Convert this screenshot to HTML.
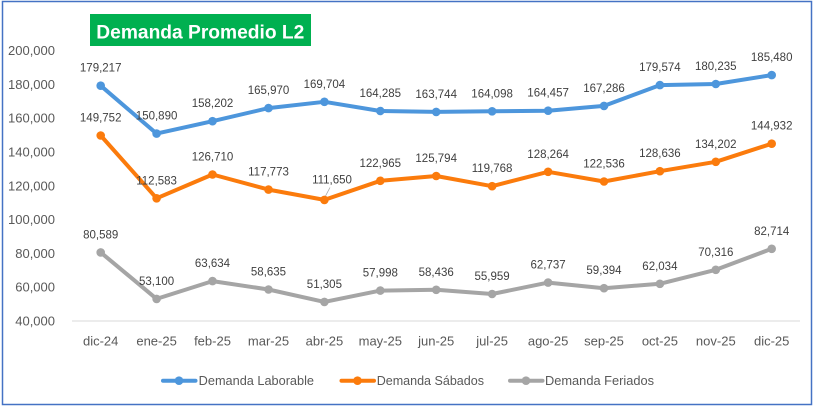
<!DOCTYPE html>
<html><head><meta charset="utf-8"><style>
html,body{margin:0;padding:0;background:#fff;}
svg{display:block;}
text{font-family:"Liberation Sans",sans-serif;}
</style></head><body>
<svg width="818" height="415" viewBox="0 0 818 415" xmlns="http://www.w3.org/2000/svg">
<rect x="0" y="0" width="818" height="415" fill="#fff"/>
<rect x="2.5" y="1.5" width="809" height="403" fill="#fff" stroke="#4472C4" stroke-width="1.5"/>
<!-- title -->
<rect x="90" y="14" width="221" height="32" fill="#00B050"/>
<text x="200.3" y="38.5" font-size="19.5" font-weight="bold" fill="#fff" text-anchor="middle" textLength="208" lengthAdjust="spacingAndGlyphs">Demanda Promedio L2</text>
<!-- y axis labels -->
<g font-size="13" fill="#595959" text-anchor="end">
<text x="55" y="55.1">200,000</text>
<text x="55" y="88.9">180,000</text>
<text x="55" y="122.7">160,000</text>
<text x="55" y="156.5">140,000</text>
<text x="55" y="190.3">120,000</text>
<text x="55" y="224.1">100,000</text>
<text x="55" y="257.9">80,000</text>
<text x="55" y="291.7">60,000</text>
<text x="55" y="325.5">40,000</text>
</g>
<line x1="72" y1="321" x2="800" y2="321" stroke="#D9D9D9" stroke-width="1"/>
<!-- x labels -->
<g font-size="13" fill="#595959" text-anchor="middle">
<text x="100.7" y="345.5">dic-24</text>
<text x="156.6" y="345.5">ene-25</text>
<text x="212.5" y="345.5">feb-25</text>
<text x="268.5" y="345.5">mar-25</text>
<text x="324.4" y="345.5">abr-25</text>
<text x="380.3" y="345.5">may-25</text>
<text x="436.2" y="345.5">jun-25</text>
<text x="492.1" y="345.5">jul-25</text>
<text x="548.1" y="345.5">ago-25</text>
<text x="604.0" y="345.5">sep-25</text>
<text x="659.9" y="345.5">oct-25</text>
<text x="715.8" y="345.5">nov-25</text>
<text x="771.7" y="345.5">dic-25</text>
</g>
<!-- series -->
<g fill="none" stroke-width="4" stroke-linejoin="round" stroke-linecap="round">
<polyline stroke="#4D96DC" points="100.7,85.7 156.6,133.6 212.5,121.2 268.5,108.1 324.4,101.8 380.3,111.0 436.2,111.9 492.1,111.3 548.1,110.7 604.0,105.9 659.9,85.1 715.8,84.0 771.7,75.1"/>
<polyline stroke="#FB7B0C" points="100.7,135.5 156.6,198.3 212.5,174.5 268.5,189.6 324.4,199.9 380.3,180.8 436.2,176.0 492.1,186.2 548.1,171.8 604.0,181.5 659.9,171.2 715.8,161.8 771.7,143.7"/>
<polyline stroke="#A5A5A5" points="100.7,252.4 156.6,298.9 212.5,281.1 268.5,289.5 324.4,301.9 380.3,290.6 436.2,289.8 492.1,294.0 548.1,282.6 604.0,288.2 659.9,283.8 715.8,269.8 771.7,248.8"/>
</g>
<g fill="#4D96DC">
<circle cx="100.7" cy="85.7" r="4.3"/><circle cx="156.6" cy="133.6" r="4.3"/><circle cx="212.5" cy="121.2" r="4.3"/><circle cx="268.5" cy="108.1" r="4.3"/><circle cx="324.4" cy="101.8" r="4.3"/><circle cx="380.3" cy="111.0" r="4.3"/><circle cx="436.2" cy="111.9" r="4.3"/><circle cx="492.1" cy="111.3" r="4.3"/><circle cx="548.1" cy="110.7" r="4.3"/><circle cx="604.0" cy="105.9" r="4.3"/><circle cx="659.9" cy="85.1" r="4.3"/><circle cx="715.8" cy="84.0" r="4.3"/><circle cx="771.7" cy="75.1" r="4.3"/>
</g>
<g fill="#FB7B0C">
<circle cx="100.7" cy="135.5" r="4.3"/><circle cx="156.6" cy="198.3" r="4.3"/><circle cx="212.5" cy="174.5" r="4.3"/><circle cx="268.5" cy="189.6" r="4.3"/><circle cx="324.4" cy="199.9" r="4.3"/><circle cx="380.3" cy="180.8" r="4.3"/><circle cx="436.2" cy="176.0" r="4.3"/><circle cx="492.1" cy="186.2" r="4.3"/><circle cx="548.1" cy="171.8" r="4.3"/><circle cx="604.0" cy="181.5" r="4.3"/><circle cx="659.9" cy="171.2" r="4.3"/><circle cx="715.8" cy="161.8" r="4.3"/><circle cx="771.7" cy="143.7" r="4.3"/>
</g>
<g fill="#A5A5A5">
<circle cx="100.7" cy="252.4" r="4.3"/><circle cx="156.6" cy="298.9" r="4.3"/><circle cx="212.5" cy="281.1" r="4.3"/><circle cx="268.5" cy="289.5" r="4.3"/><circle cx="324.4" cy="301.9" r="4.3"/><circle cx="380.3" cy="290.6" r="4.3"/><circle cx="436.2" cy="289.8" r="4.3"/><circle cx="492.1" cy="294.0" r="4.3"/><circle cx="548.1" cy="282.6" r="4.3"/><circle cx="604.0" cy="288.2" r="4.3"/><circle cx="659.9" cy="283.8" r="4.3"/><circle cx="715.8" cy="269.8" r="4.3"/><circle cx="771.7" cy="248.8" r="4.3"/>
</g>
<line x1="330" y1="187.5" x2="325.5" y2="196" stroke="#A6A6A6" stroke-width="0.8"/>
<!-- data labels -->
<g font-size="11.5" fill="#404040" text-anchor="middle">
<text x="100.7" y="71.7">179,217</text>
<text x="156.6" y="119.6">150,890</text>
<text x="212.5" y="107.2">158,202</text>
<text x="268.5" y="94.1">165,970</text>
<text x="324.4" y="87.8">169,704</text>
<text x="380.3" y="97.0">164,285</text>
<text x="436.2" y="97.9">163,744</text>
<text x="492.1" y="97.3">164,098</text>
<text x="548.1" y="96.7">164,457</text>
<text x="604.0" y="91.9">167,286</text>
<text x="659.9" y="71.1">179,574</text>
<text x="715.8" y="70.0">180,235</text>
<text x="771.7" y="61.1">185,480</text>

<text x="100.7" y="121.5">149,752</text>
<text x="156.6" y="184.3">112,583</text>
<text x="212.5" y="160.5">126,710</text>
<text x="268.5" y="175.6">117,773</text>
<text x="332" y="183.6">111,650</text>
<text x="380.3" y="166.8">122,965</text>
<text x="436.2" y="162.0">125,794</text>
<text x="492.1" y="172.2">119,768</text>
<text x="548.1" y="157.8">128,264</text>
<text x="604.0" y="167.5">122,536</text>
<text x="659.9" y="157.2">128,636</text>
<text x="715.8" y="147.8">134,202</text>
<text x="771.7" y="129.7">144,932</text>

<text x="100.7" y="238.4">80,589</text>
<text x="156.6" y="284.9">53,100</text>
<text x="212.5" y="267.1">63,634</text>
<text x="268.5" y="275.5">58,635</text>
<text x="324.4" y="287.9">51,305</text>
<text x="380.3" y="276.6">57,998</text>
<text x="436.2" y="275.8">58,436</text>
<text x="492.1" y="280.0">55,959</text>
<text x="548.1" y="268.6">62,737</text>
<text x="604.0" y="274.2">59,394</text>
<text x="659.9" y="269.8">62,034</text>
<text x="715.8" y="255.8">70,316</text>
<text x="771.7" y="234.8">82,714</text>
</g>
<!-- legend -->
<g stroke-width="4" stroke-linecap="round">
<line x1="163" y1="380.7" x2="195.5" y2="380.7" stroke="#4D96DC"/>
<line x1="341.5" y1="380.7" x2="374" y2="380.7" stroke="#FB7B0C"/>
<line x1="510" y1="380.7" x2="542.5" y2="380.7" stroke="#A5A5A5"/>
</g>
<circle cx="179" cy="380.7" r="4.3" fill="#4D96DC"/>
<circle cx="357.5" cy="380.7" r="4.3" fill="#FB7B0C"/>
<circle cx="526" cy="380.7" r="4.3" fill="#A5A5A5"/>
<g font-size="12.7" fill="#595959">
<text x="198.7" y="385.2" textLength="115.3" lengthAdjust="spacingAndGlyphs">Demanda Laborable</text>
<text x="376.7" y="385.2" textLength="107.3" lengthAdjust="spacingAndGlyphs">Demanda Sábados</text>
<text x="545" y="385.2" textLength="109" lengthAdjust="spacingAndGlyphs">Demanda Feriados</text>
</g>
</svg>
</body></html>
